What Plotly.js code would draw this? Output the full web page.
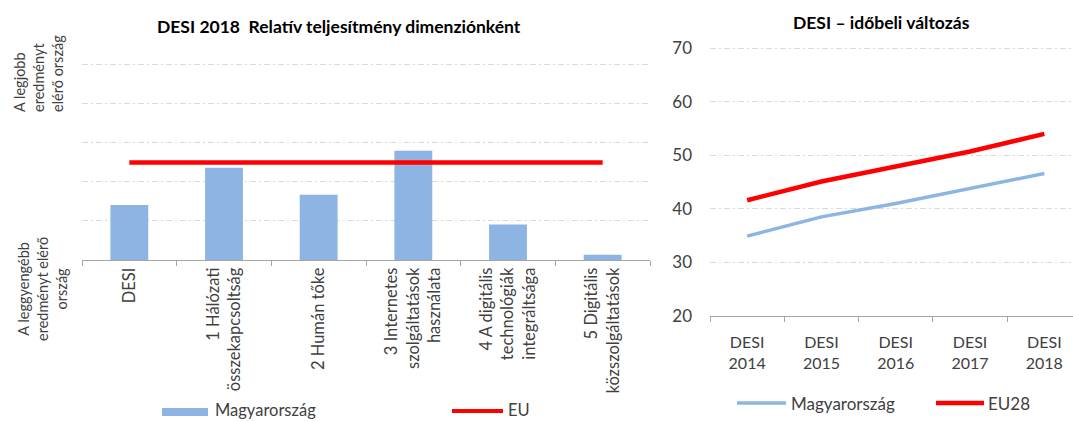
<!DOCTYPE html>
<html>
<head>
<meta charset="utf-8">
<script src="https://cdn.plot.ly/plotly-3.0.1.min.js"></script>
<style>
html,body{margin:0;padding:0;background:#fff;}
#chart{width:1073px;height:421px;}
</style>
</head>
<body>
<div id="chart"></div>
<script>
// ---- data ----
const categories = ['DESI', '1 Hálózati<br>összekapcsoltság', '2 Humán tőke',
  '3 Internetes<br>szolgáltatások<br>használata', '4 A digitális<br>technológiák<br>integráltsága',
  '5 Digitális<br>közszolgáltatások'];
const huRelative = [28.2, 47.3, 33.4, 56.0, 18.2, 2.7];
const euRelative = [50, 50, 50, 50, 50, 50];

const years = ['DESI<br>2014', 'DESI<br>2015', 'DESI<br>2016', 'DESI<br>2017', 'DESI<br>2018'];
const huDesi = [34.9, 38.5, 41.0, 43.8, 46.6];
const euDesi = [41.6, 45.1, 47.9, 50.7, 54.0];

const seriesNames = ['Magyarország', 'EU', 'EU28'];

// ---- styles ----
const FONT = 'Lato, "Open Sans", sans-serif';
const BLUE = '#8DB4E2';
const RED = '#FF0000';
const GRID = '#D9D9D9';
const TXT = '#404040';
const W = 1073, H = 421;
const px = v => v / W;
const py = v => (H - v) / H;

const traces = [
  {type: 'bar', x: categories, y: huRelative, name: seriesNames[0], xaxis: 'x', yaxis: 'y',
   marker: {color: BLUE}, showlegend: false, hoverinfo: 'skip'},
  {type: 'scatter', mode: 'lines', x: categories, y: euRelative, name: seriesNames[1], xaxis: 'x', yaxis: 'y',
   line: {color: RED, width: 4.5}, showlegend: false, hoverinfo: 'skip'},
  {type: 'scatter', mode: 'lines', x: years, y: huDesi, name: seriesNames[0], xaxis: 'x2', yaxis: 'y2',
   line: {color: BLUE, width: 3.5}, showlegend: false, hoverinfo: 'skip'},
  {type: 'scatter', mode: 'lines', x: years, y: euDesi, name: seriesNames[2], xaxis: 'x2', yaxis: 'y2',
   line: {color: RED, width: 4.5}, showlegend: false, hoverinfo: 'skip'}
];

const layout = {
  width: W, height: H,
  margin: {l: 0, r: 0, t: 0, b: 0},
  paper_bgcolor: '#fff', plot_bgcolor: '#fff',
  font: {family: FONT, color: TXT, size: 14},
  bargap: 0.6,
  xaxis: {
    domain: [px(82), px(650)], anchor: 'y', type: 'category',
    range: [-0.5, 5.5], tickson: 'boundaries', ticks: 'outside', ticklen: 5, tickcolor: '#A6A6A6',
    showline: true, linecolor: '#A6A6A6', linewidth: 1, showgrid: false,
    tickangle: -90, tickfont: {family: FONT, size: 16.5, color: TXT}, automargin: false, fixedrange: true
  },
  yaxis: {
    domain: [py(260), py(63)], anchor: 'x', range: [0, 101], dtick: 20,
    showticklabels: false, ticks: '', showline: false, zeroline: false,
    showgrid: true, gridcolor: GRID, gridwidth: 1, griddash: '6px,3px,2px,3px', automargin: false, fixedrange: true
  },
  xaxis2: {
    domain: [px(710), 1], anchor: 'y2', type: 'category',
    range: [-0.5, 4.386], tickson: 'boundaries', ticks: 'outside', ticklen: 5, tickcolor: '#A6A6A6',
    showline: true, linecolor: '#A6A6A6', linewidth: 1, showgrid: false,
    tickangle: 0, tickfont: {family: FONT, size: 16, color: TXT}, automargin: false, fixedrange: true,
    ticklabelstandoff: 12
  },
  yaxis2: {
    domain: [py(316), py(46.5)], anchor: 'x2', range: [20, 70.3], dtick: 10,
    ticks: '', showline: false, zeroline: false, ticklabelstandoff: 17,
    tickfont: {family: FONT, size: 17, color: TXT},
    showgrid: true, gridcolor: GRID, gridwidth: 1, griddash: '6px,3px,2px,3px', automargin: false, fixedrange: true
  },
  annotations: [
    {xref: 'paper', yref: 'paper', x: px(339), y: py(27), showarrow: false,
     text: '<b>DESI 2018  Relatív teljesítmény dimenziónként</b>', font: {family: FONT, size: 17.5, color: '#000'},
     xanchor: 'center', yanchor: 'middle'},
    {xref: 'paper', yref: 'paper', x: px(881), y: py(23), showarrow: false,
     text: '<b>DESI – időbeli változás</b>', font: {family: FONT, size: 17.5, color: '#000'},
     xanchor: 'center', yanchor: 'middle'},
    {xref: 'paper', yref: 'paper', x: px(38), y: py(74), showarrow: false, textangle: -90, align: 'left',
     text: 'A legjobb<br>eredményt<br>elérő ország', font: {family: FONT, size: 14.5, color: TXT},
     xanchor: 'center', yanchor: 'middle'},
    {xref: 'paper', yref: 'paper', x: px(42), y: py(289), showarrow: false, textangle: -90, align: 'center',
     text: 'A leggyengébb<br>eredményt elérő<br>ország', font: {family: FONT, size: 14.5, color: TXT},
     xanchor: 'center', yanchor: 'middle'},
    // legends
    {xref: 'paper', yref: 'paper', x: px(213), y: py(410), showarrow: false, text: seriesNames[0],
     font: {family: FONT, size: 16.5, color: TXT}, xanchor: 'left', yanchor: 'middle'},
    {xref: 'paper', yref: 'paper', x: px(506), y: py(410), showarrow: false, text: seriesNames[1],
     font: {family: FONT, size: 16.5, color: TXT}, xanchor: 'left', yanchor: 'middle'},
    {xref: 'paper', yref: 'paper', x: px(789), y: py(403), showarrow: false, text: seriesNames[0],
     font: {family: FONT, size: 17, color: TXT}, xanchor: 'left', yanchor: 'middle'},
    {xref: 'paper', yref: 'paper', x: px(986), y: py(403), showarrow: false, text: seriesNames[2],
     font: {family: FONT, size: 17, color: TXT}, xanchor: 'left', yanchor: 'middle'}
  ],
  shapes: [
    {type: 'rect', xref: 'paper', yref: 'paper', x0: px(162), x1: px(208), y0: py(416), y1: py(408),
     fillcolor: BLUE, line: {width: 0}},
    {type: 'line', xref: 'paper', yref: 'paper', x0: px(452), x1: px(503), y0: py(411), y1: py(411),
     line: {color: RED, width: 4}},
    {type: 'line', xref: 'paper', yref: 'paper', x0: px(737), x1: px(786), y0: py(403), y1: py(403),
     line: {color: BLUE, width: 3.5}},
    {type: 'line', xref: 'paper', yref: 'paper', x0: px(936), x1: px(984), y0: py(403), y1: py(403),
     line: {color: RED, width: 4.5}}
  ]
};

Plotly.newPlot('chart', traces, layout, {staticPlot: true, displayModeBar: false});
</script>
</body>
</html>
